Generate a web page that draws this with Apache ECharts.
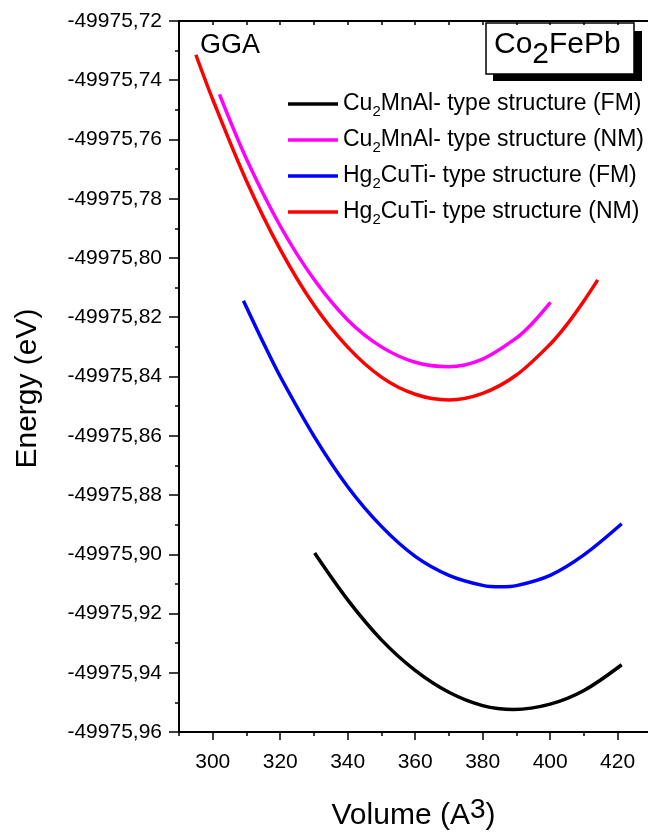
<!DOCTYPE html>
<html>
<head>
<meta charset="utf-8">
<script src="https://cdn.jsdelivr.net/npm/echarts@6.0.0/dist/echarts.min.js"></script>
<style>
  html, body { margin: 0; padding: 0; background: #fff; }
  #chart { width: 648px; height: 836px; }
</style>
</head>
<body>
<div id="chart"></div>
<script>
var chart = echarts.init(document.getElementById('chart'));

// 数据 (Volume, Energy)
var cu2mnalFM = [[330.2, -49975.8996], [340, -49975.9154], [350, -49975.9289], [360, -49975.9392],
  [370, -49975.9466], [380, -49975.9511], [389.2, -49975.9524], [400, -49975.9506],
  [410, -49975.9460], [421.2, -49975.9373]];
var cu2mnalNM = [[302.0, -49975.7448], [310, -49975.7666], [320, -49975.7892], [330, -49975.8072],
  [340, -49975.8209], [350, -49975.8300], [360, -49975.8352], [370, -49975.8367],
  [380, -49975.8341], [390, -49975.8270], [395, -49975.8217], [400.1, -49975.8150]];
var hg2cutiFM = [[309.1, -49975.8144], [315, -49975.8286], [320, -49975.8400], [330, -49975.8601],
  [340, -49975.8772], [350, -49975.8906], [360, -49975.9007], [370, -49975.9071],
  [380, -49975.9105], [385.3, -49975.9110], [390, -49975.9106], [400, -49975.9071],
  [410, -49975.9002], [421.2, -49975.8897]];
var hg2cutiNM = [[295.0, -49975.7314], [300, -49975.7465], [310, -49975.7740], [320, -49975.7971],
  [330, -49975.8159], [340, -49975.8301], [350, -49975.8402], [360, -49975.8460],
  [370, -49975.8479], [380, -49975.8457], [390, -49975.8395], [400, -49975.8291],
  [405, -49975.8224], [410, -49975.8145], [414.1, -49975.8074]];

var seriesNames = ['Cu2MnAl- type structure (FM)', 'Cu2MnAl- type structure (NM)',
  'Hg2CuTi- type structure (FM)', 'Hg2CuTi- type structure (NM)'];
var seriesColors = ['#000000', '#ff00ff', '#0000ff', '#ff0000'];
var seriesData = [cu2mnalFM, cu2mnalNM, hg2cutiFM, hg2cutiNM];

var xTicks = [300, 320, 340, 360, 380, 400, 420];
var xMinor = [290, 310, 330, 350, 370, 390, 410];
var yTicks = [-49975.96, -49975.94, -49975.92, -49975.90, -49975.88, -49975.86, -49975.84,
  -49975.82, -49975.80, -49975.78, -49975.76, -49975.74, -49975.72];

var font = 'Liberation Sans, Arial, sans-serif';
var xMin = 290, xMax = 429;

var series = seriesNames.map(function (name, i) {
  return {
    name: name,
    type: 'line',
    data: seriesData[i],
    smooth: 0.33,
    symbol: 'none',
    lineStyle: { color: seriesColors[i], width: 3.5 },
    itemStyle: { color: seriesColors[i] }
  };
});

var option = {
  animation: false,
  backgroundColor: '#fff',
  grid: { left: 179, right: 0, top: 21, bottom: 99 },
  legend: {
    orient: 'vertical',
    left: 283,
    top: 84,
    icon: 'rect',
    itemWidth: 50,
    itemHeight: 3.5,
    itemGap: 6,
    data: seriesNames,
    formatter: function (name) {
      return name.replace(/^(Cu|Hg)2/, '$1{sub|2}');
    },
    textStyle: {
      fontFamily: font, fontSize: 23, color: '#000', lineHeight: 30,
      rich: {
        sub: { fontFamily: font, fontSize: 15, color: '#000', lineHeight: 10, verticalAlign: 'bottom' }
      }
    }
  },
  xAxis: [{
    type: 'value',
    min: xMin, max: xMax,
    position: 'bottom',
    name: '{m|Volume (A}{sup|3}{m|)}',
    nameLocation: 'middle',
    nameGap: 64,
    nameTextStyle: {
      rich: {
        m: { fontFamily: font, fontSize: 30, color: '#000', lineHeight: 40 },
        sup: { fontFamily: font, fontSize: 28, color: '#000', lineHeight: 28, verticalAlign: 'top' }
      }
    },
    axisLine: { lineStyle: { color: '#000', width: 2 } },
    axisTick: { length: 8, customValues: xTicks, lineStyle: { color: '#000', width: 1.5 } },
    axisLabel: { customValues: xTicks, fontFamily: font, fontSize: 21, color: '#000', margin: 20 },
    splitLine: { show: false }
  }, {
    type: 'value',
    min: xMin, max: xMax,
    position: 'bottom',
    offset: 0,
    axisLine: { show: false },
    axisTick: { length: 4, customValues: xMinor, lineStyle: { color: '#000', width: 1.5 } },
    axisLabel: { show: false },
    splitLine: { show: false }
  }, {
    type: 'value',
    min: xMin, max: xMax,
    position: 'top',
    axisLine: { lineStyle: { color: '#000', width: 2 } },
    axisTick: { inside: true, length: 4, customValues: xTicks.concat(xMinor), lineStyle: { color: '#000', width: 1.5 } },
    axisLabel: { show: false },
    splitLine: { show: false }
  }],
  yAxis: {
    type: 'value',
    min: -49975.96, max: -49975.72,
    interval: 0.02,
    name: 'Energy (eV)',
    nameLocation: 'middle',
    nameGap: 136,
    nameTextStyle: { fontFamily: font, fontSize: 30, color: '#000', padding: [0, 24, 0, 0] },
    axisLine: { lineStyle: { color: '#000', width: 2 } },
    axisTick: { length: 10, customValues: yTicks, lineStyle: { color: '#000', width: 1.5 } },
    minorTick: { show: true, splitNumber: 2, length: 4, lineStyle: { color: '#000', width: 1.5 } },
    axisLabel: {
      customValues: yTicks,
      fontFamily: font, fontSize: 21, color: '#000', margin: 17,
      formatter: function (v) { return v.toFixed(2).replace('.', ','); }
    },
    splitLine: { show: false },
    minorSplitLine: { show: false }
  },
  graphic: [{
    type: 'text',
    left: 200, top: 32,
    style: { text: 'GGA', font: '27px ' + font, fill: '#000' }
  }, {
    type: 'rect',
    shape: { x: 493, y: 31, width: 149, height: 50 },
    style: { fill: '#000' }
  }, {
    type: 'rect',
    shape: { x: 486, y: 23, width: 148, height: 51 },
    style: { fill: '#fff', stroke: '#000', lineWidth: 1.5 }
  }, {
    type: 'text',
    x: 494, y: 44.6,
    style: {
      text: '{m|Co}{s|2}{m|FePb}',
      verticalAlign: 'middle',
      rich: {
        m: { fontFamily: font, fontSize: 30, fill: '#000', lineHeight: 50 },
        s: { fontFamily: font, fontSize: 30, fill: '#000', lineHeight: 30, verticalAlign: 'bottom' }
      }
    }
  }],
  series: series
};
chart.setOption(option);
</script>
</body>
</html>
